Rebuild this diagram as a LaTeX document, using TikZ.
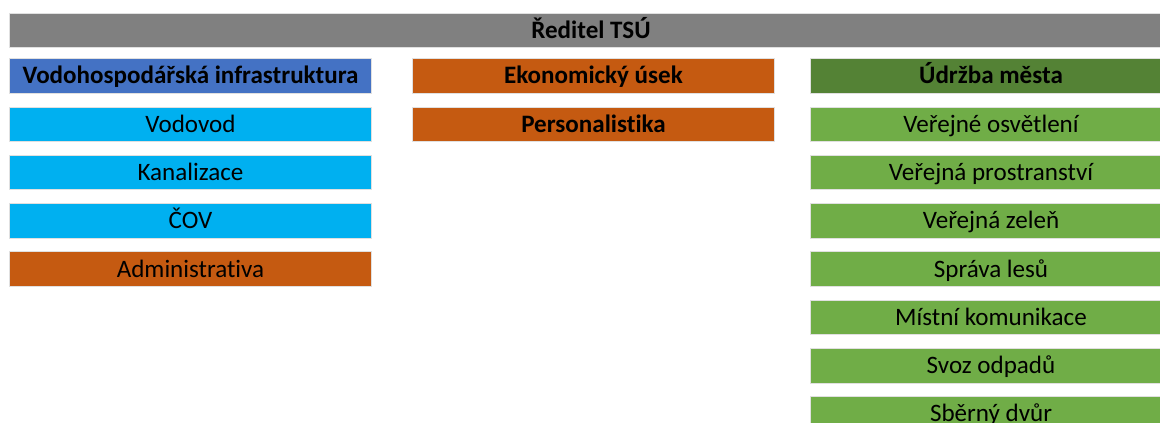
\documentclass[tikz,border=0pt]{standalone}
\usepackage{fontspec}
\setmainfont[Ligatures={NoCommon}]{Carlito}
\definecolor{cgray}{HTML}{808080}
\definecolor{cblue}{HTML}{4472C4}
\definecolor{ccyan}{HTML}{00B0F0}
\definecolor{corange}{HTML}{C55A11}
\definecolor{cdgreen}{HTML}{548235}
\definecolor{clgreen}{HTML}{70AD47}
\tikzset{
  box/.style={rectangle, inner sep=0pt, outer sep=0pt, draw=black!12, line width=0.4pt,
    minimum height=34.5*0.75pt, font=\fontsize{18.8}{20}\selectfont, text=black,
    text height=12.1pt, text depth=0pt},
  colbox/.style={box, minimum width=362*0.75pt},
  hdr/.style={font=\fontsize{18.8}{20}\selectfont\bfseries},
}
\begin{document}
\begin{tikzpicture}[x=0.75pt,y=-0.75pt]
\useasboundingbox (0,0) rectangle (1160,423);
\clip (0,0) rectangle (1160,423);
\fill[white] (0,0) rectangle (1160,423);
% top bar
\node[box, hdr, fill=cgray, minimum width=1164*0.75pt, minimum height=34*0.75pt] (dir) at (591,30) {Ředitel TSÚ};
% left column
\node[colbox, hdr, fill=cblue] (vi) at (190.5,75.75) {Vodohospodářská infrastruktura};
\node[colbox, fill=ccyan] (vod) at (190.5,124.05) {Vodovod};
\node[colbox, fill=ccyan] (kan) at (190.5,172.35) {Kanalizace};
\node[colbox, fill=ccyan] (cov) at (190.5,220.65) {ČOV};
\node[colbox, fill=corange] (adm) at (190.5,268.95) {Administrativa};
% middle column
\node[colbox, hdr, fill=corange] (eko) at (593.5,75.75) {Ekonomický úsek};
\node[colbox, hdr, fill=corange] (per) at (593.5,124.05) {Personalistika};
% right column
\node[colbox, hdr, fill=cdgreen] (udr) at (991,75.75) {Údržba města};
\node[colbox, fill=clgreen] (vo) at (991,124.05) {Veřejné osvětlení};
\node[colbox, fill=clgreen] (vp) at (991,172.35) {Veřejná prostranství};
\node[colbox, fill=clgreen] (vz) at (991,220.65) {Veřejná zeleň};
\node[colbox, fill=clgreen] (sl) at (991,268.95) {Správa lesů};
\node[colbox, fill=clgreen] (mk) at (991,317.25) {Místní komunikace};
\node[colbox, fill=clgreen] (so) at (991,365.55) {Svoz odpadů};
\node[colbox, fill=clgreen] (sd) at (991,413.85) {Sběrný dvůr};
\end{tikzpicture}
\end{document}
